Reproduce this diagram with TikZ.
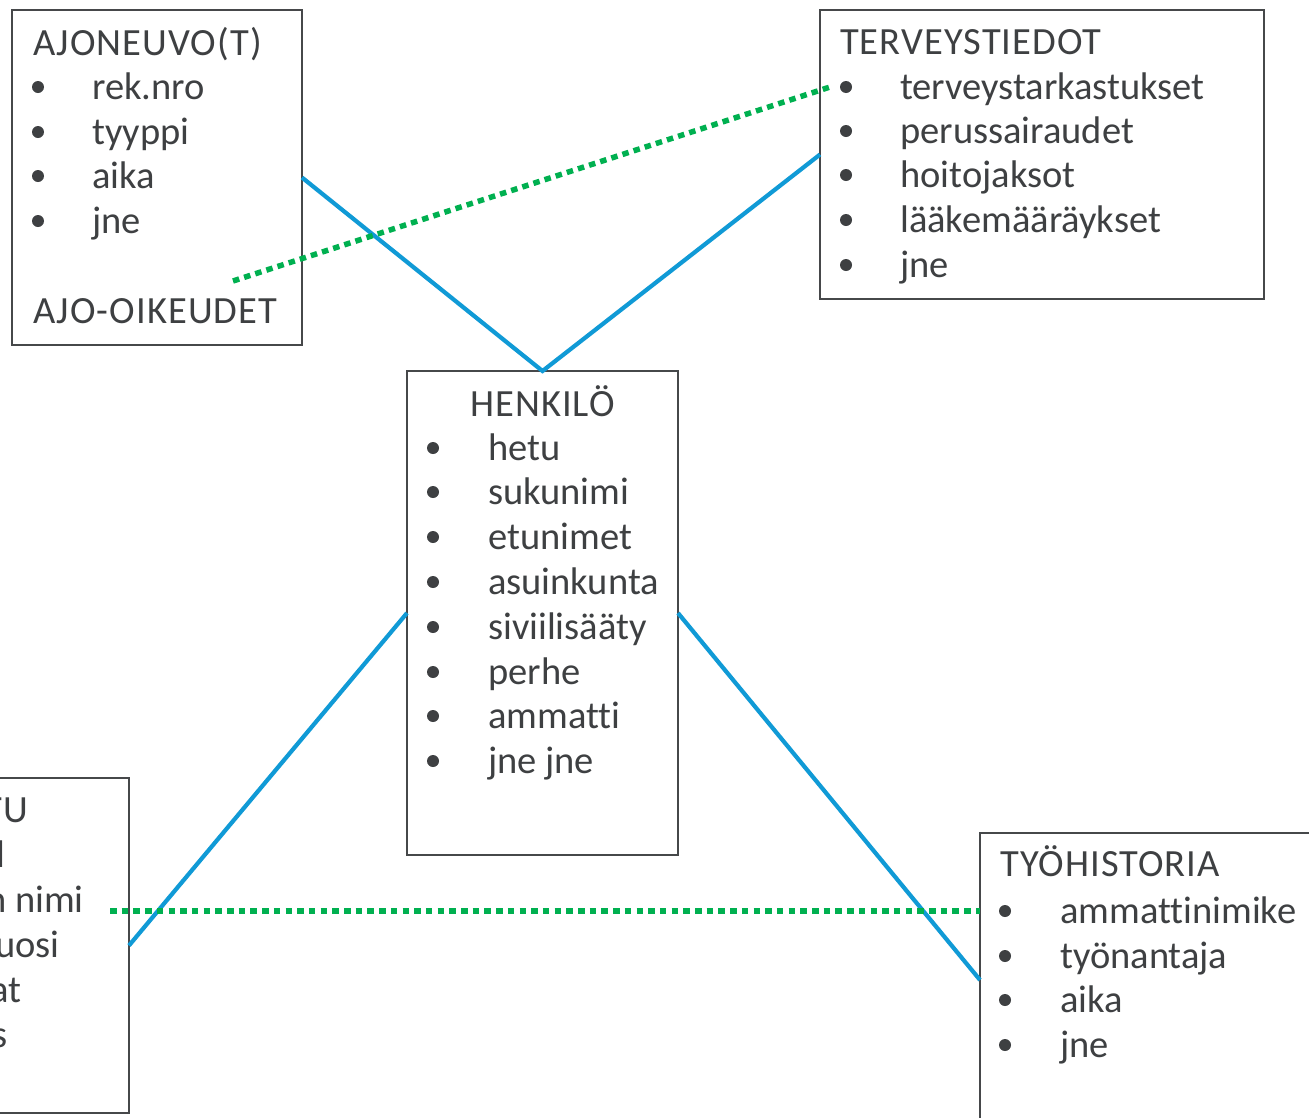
\documentclass[tikz,border=0pt]{standalone}
\usepackage{fontspec}
\setmainfont[Ligatures=NoCommon]{Carlito}
\newfontfamily\capsfont[LetterSpace=2.8,Ligatures=NoCommon]{Carlito}
\usetikzlibrary{calc}
\definecolor{txtc}{RGB}{62,64,66}
\definecolor{boxc}{RGB}{70,72,74}
\definecolor{bluec}{RGB}{16,154,214}
\definecolor{greenc}{RGB}{0,176,80}
\begin{document}
\begin{tikzpicture}[x=1pt,y=-1pt,
  box/.style={draw=boxc, line width=1.5pt, inner sep=0pt, outer sep=0pt, rectangle},
  txt/.style={text=txtc, font=\fontsize{38.5}{46}\selectfont, inner sep=0pt, anchor=base west},
  ttl/.style={txt, font=\capsfont\fontsize{38.5}{46}\selectfont},
  rtxt/.style={txt, anchor=base east},
  bul/.style={circle, fill=txtc, inner sep=0pt, minimum size=12pt},
  link/.style={draw=bluec, line width=4.2pt},
  dots/.style={draw=greenc, line width=5.5pt, dash pattern=on 6.5pt off 5.2pt}]
\useasboundingbox (0,0) rectangle (1309,1117);
\fill[white] (0,0) rectangle (1309,1117);
% boxes
\node[box, minimum width=290pt, minimum height=335pt] (ajo) at (157,177.5) {};
\node[box, minimum width=444pt, minimum height=289pt] (ter) at (1042,154.5) {};
\node[box, minimum width=271pt, minimum height=484pt] (hen) at (542.5,613) {};
\node[box, minimum width=290pt, minimum height=335pt] (kou) at (-16,945.5) {};
\node[box, minimum width=350pt, minimum height=294pt] (tyo) at (1155,980) {};
% AJONEUVO
\node[ttl] (ajo-t) at (33,55) {AJONEUVO(T)};
\foreach \t/\y [count=\i] in {rek.nro/99, tyyppi/144, aika/188, jne/233}{
  \node[bul] (ajo-b\i) at (38,\y-12) {};
  \node[txt] (ajo-i\i) at (92,\y) {\t};
}
\node[ttl] (ajo-o) at (33,323) {AJO-OIKEUDET};
% TERVEYSTIEDOT
\node[ttl] (ter-t) at (840,54) {TERVEYSTIEDOT};
\foreach \t/\y [count=\i] in {terveystarkastukset/99, perussairaudet/143, hoitojaksot/187, lääkemääräykset/232, jne/277}{
  \node[bul] (ter-b\i) at (846,\y-12) {};
  \node[txt] (ter-i\i) at (900,\y) {\t};
}
% HENKILO
\node[ttl, anchor=base] (hen-t) at (542.5,416) {HENKILÖ};
\foreach \t/\y [count=\i] in {hetu/460, sukunimi/504, etunimet/549, asuinkunta/594, siviilisääty/639, perhe/684, ammatti/728, jne jne/773}{
  \node[bul] (hen-b\i) at (433,\y-12) {};
  \node[txt] (hen-i\i) at (488,\y) {\t};
}
% clipped box (left)
\node[ttl, anchor=base east] (kou-t) at (28,822) {TU};
\foreach \t/\x/\y [count=\i] in {l/6/867, n nimi/84/912, uosi/60/957, at/22/1002, s/8/1047}{
  \node[rtxt] (kou-i\i) at (\x,\y) {\t};
}
% TYOHISTORIA
\node[ttl] (tyo-t) at (1000,876) {TYÖHISTORIA};
\foreach \t/\y [count=\i] in {ammattinimike/923, työnantaja/968, aika/1012, jne/1057}{
  \node[bul] (tyo-b\i) at (1005,\y-12) {};
  \node[txt] (tyo-i\i) at (1060,\y) {\t};
}
% connectors
\draw[link, line join=miter] (ajo.east) -- (hen.north) -- (ter.west);
\draw[link] (hen.west) -- (kou.east);
\draw[link] (hen.east) -- (tyo.west);
\coordinate (g1) at (233,281);
\coordinate (g2) at (830,87);
\coordinate (g3) at (110,911);
\draw[dots] (g1) -- (g2);
\draw[dots] (g3) -- (tyo.west |- g3);
\end{tikzpicture}
\end{document}
